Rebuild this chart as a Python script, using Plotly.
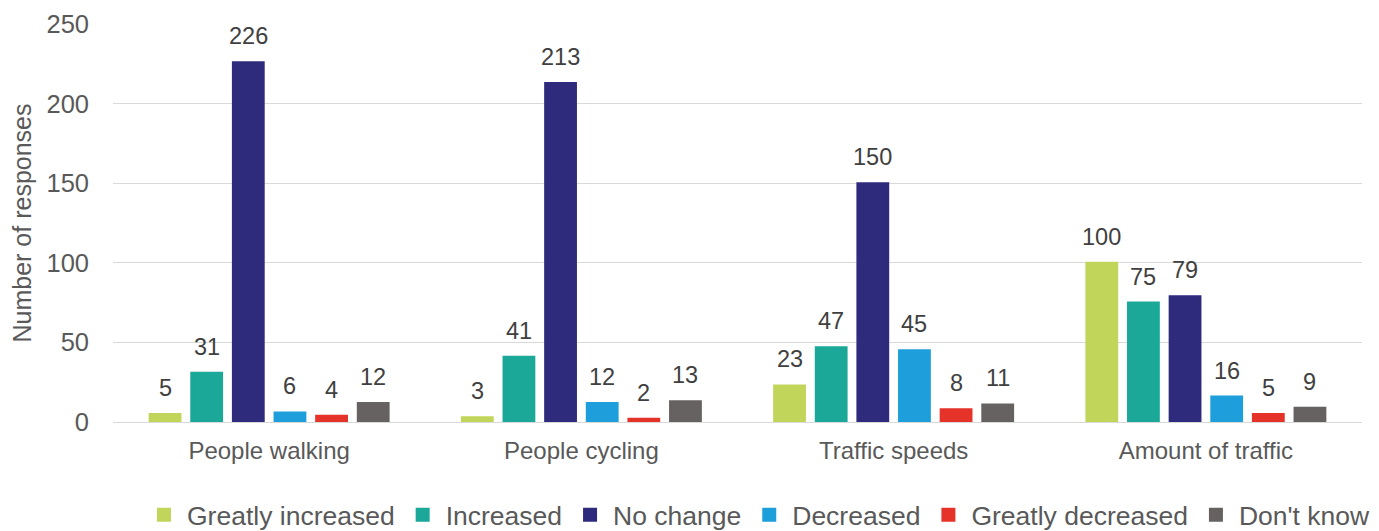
import plotly.graph_objects as go

categories = ["People walking", "People cycling", "Traffic speeds", "Amount of traffic"]
series_names = ["Greatly increased", "Increased", "No change", "Decreased", "Greatly decreased", "Don't know"]
greatly_increased = [5, 3, 23, 100]
increased = [31, 41, 47, 75]
no_change = [226, 213, 150, 79]
decreased = [6, 12, 45, 16]
greatly_decreased = [4, 2, 8, 5]
dont_know = [12, 13, 11, 9]
series_values = [greatly_increased, increased, no_change, decreased, greatly_decreased, dont_know]
colors = ["#C2D55B", "#1BA898", "#2E2B7D", "#1E9FDC", "#E5332A", "#666261"]

W, H = 1379, 531
# the page body has an 8px default margin, so margins are reduced by 8 on left/top
ML, MR, MT, MB = 105, 25, 16, 117
BARGAP = 0.2
BARGROUPGAP = 0.26
FONT = "Liberation Sans, Arial, sans-serif"

fig = go.Figure()
for name, vals, col in zip(series_names, series_values, colors):
    fig.add_trace(go.Bar(x=categories, y=vals, name=name, marker_color=col,
                         marker_line_width=2, marker_line_color=col,
                         hoverinfo="x+y+name"))

plot_w = W - ML - MR
slot = plot_w / len(categories) * (1 - BARGAP) / len(series_names)
n = len(series_names)
for i, vals in enumerate(series_values):
    for cat, v in zip(categories, vals):
        fig.add_annotation(x=cat, y=v, text=str(v), showarrow=False,
                           xref="x", yref="y", yanchor="bottom",
                           xshift=(i - (n - 1) / 2) * slot, yshift=11,
                           font=dict(family=FONT, size=23.5, color="#404040"))

fig.update_layout(
    width=W, height=H,
    margin=dict(l=ML, r=MR, t=MT, b=MB, autoexpand=False),
    paper_bgcolor="white", plot_bgcolor="white",
    barmode="group", bargap=BARGAP, bargroupgap=BARGROUPGAP,
    font=dict(family=FONT, color="#595959"),
    showlegend=True,
    legend=dict(orientation="h", x=0.0224, xanchor="left", y=-0.2337, yanchor="middle",
                font=dict(family=FONT, size=26.5, color="#595959"),
                itemwidth=36),
    xaxis=dict(showgrid=False, showline=True, linecolor="#d9d9d9", linewidth=1,
               ticks="", ticklabelstandoff=7,
               tickfont=dict(family=FONT, size=24, color="#595959")),
    yaxis=dict(range=[0, 250], dtick=50, showgrid=True, gridcolor="#d9d9d9", gridwidth=1,
               zeroline=False, ticks="", ticklabelstandoff=23,
               tickfont=dict(family=FONT, size=25.5, color="#595959"),
               title=dict(text="Number of responses", standoff=7,
                          font=dict(family=FONT, size=25, color="#595959"))),
)

fig.write_html("out.html")
